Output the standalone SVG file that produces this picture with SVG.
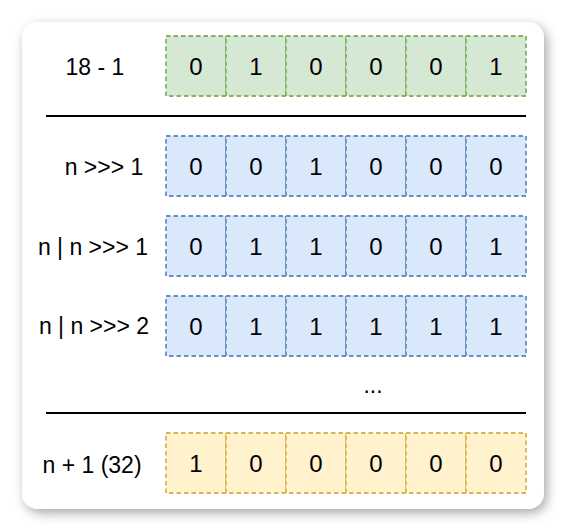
<svg xmlns="http://www.w3.org/2000/svg" width="566" height="532" viewBox="0 0 566 532">
<defs>
<filter id="sh" x="-10%" y="-10%" width="120%" height="120%">
<feGaussianBlur in="SourceAlpha" stdDeviation="6"/>
<feOffset dx="3" dy="4" result="b"/>
<feComponentTransfer><feFuncA type="linear" slope="0.35"/></feComponentTransfer>
<feMerge><feMergeNode/><feMergeNode in="SourceGraphic"/></feMerge>
</filter>
</defs>
<style>
text{font-family:"Liberation Sans",Arial,Helvetica,sans-serif;font-size:23px;fill:#000;text-anchor:middle}
.d text{font-size:24px}
.c{stroke-width:1.8;stroke-dasharray:4.5 3}
.g{fill:#d5e8d4;stroke:#82b366}
.b{fill:#dae8fc;stroke:#6c8ebf}
.y{fill:#fff2cc;stroke:#d6b656}
.sep{stroke:#000;stroke-width:2}
</style>
<rect x="22" y="22" width="522" height="487" rx="16" fill="#fff" filter="url(#sh)"/>
<g id="row1">
<text x="95" y="75">18 - 1</text>
<g class="c g">
<rect x="166" y="36" width="60" height="60"/><rect x="226" y="36" width="60" height="60"/><rect x="286" y="36" width="60" height="60"/><rect x="346" y="36" width="60" height="60"/><rect x="406" y="36" width="60" height="60"/><rect x="466" y="36" width="60" height="60"/>
</g>
<g class="d"><text x="196" y="75">0</text><text x="256" y="75">1</text><text x="316" y="75">0</text><text x="376" y="75">0</text><text x="436" y="75">0</text><text x="496" y="75">1</text></g>
</g>
<g id="connectors">
<line class="sep" x1="46" y1="116" x2="526" y2="116"/>
<line class="sep" x1="46" y1="413" x2="526" y2="413"/>
</g>
<g id="row2">
<text x="104" y="175">n &gt;&gt;&gt; 1</text>
<g class="c b">
<rect x="166" y="136" width="60" height="60"/><rect x="226" y="136" width="60" height="60"/><rect x="286" y="136" width="60" height="60"/><rect x="346" y="136" width="60" height="60"/><rect x="406" y="136" width="60" height="60"/><rect x="466" y="136" width="60" height="60"/>
</g>
<g class="d"><text x="196" y="175">0</text><text x="256" y="175">0</text><text x="316" y="175">1</text><text x="376" y="175">0</text><text x="436" y="175">0</text><text x="496" y="175">0</text></g>
</g>
<g id="row3">
<text x="93" y="255">n | n &gt;&gt;&gt; 1</text>
<g class="c b">
<rect x="166" y="216" width="60" height="60"/><rect x="226" y="216" width="60" height="60"/><rect x="286" y="216" width="60" height="60"/><rect x="346" y="216" width="60" height="60"/><rect x="406" y="216" width="60" height="60"/><rect x="466" y="216" width="60" height="60"/>
</g>
<g class="d"><text x="196" y="255">0</text><text x="256" y="255">1</text><text x="316" y="255">1</text><text x="376" y="255">0</text><text x="436" y="255">0</text><text x="496" y="255">1</text></g>
</g>
<g id="row4">
<text x="94" y="334">n | n &gt;&gt;&gt; 2</text>
<g class="c b">
<rect x="166" y="296" width="60" height="60"/><rect x="226" y="296" width="60" height="60"/><rect x="286" y="296" width="60" height="60"/><rect x="346" y="296" width="60" height="60"/><rect x="406" y="296" width="60" height="60"/><rect x="466" y="296" width="60" height="60"/>
</g>
<g class="d"><text x="196" y="335">0</text><text x="256" y="335">1</text><text x="316" y="335">1</text><text x="376" y="335">1</text><text x="436" y="335">1</text><text x="496" y="335">1</text></g>
</g>
<g id="dots"><text x="373" y="393">...</text></g>
<g id="row5">
<text x="92" y="473">n + 1 (32)</text>
<g class="c y">
<rect x="166" y="433" width="60" height="60"/><rect x="226" y="433" width="60" height="60"/><rect x="286" y="433" width="60" height="60"/><rect x="346" y="433" width="60" height="60"/><rect x="406" y="433" width="60" height="60"/><rect x="466" y="433" width="60" height="60"/>
</g>
<g class="d"><text x="196" y="472">1</text><text x="256" y="472">0</text><text x="316" y="472">0</text><text x="376" y="472">0</text><text x="436" y="472">0</text><text x="496" y="472">0</text></g>
</g>
</svg>
